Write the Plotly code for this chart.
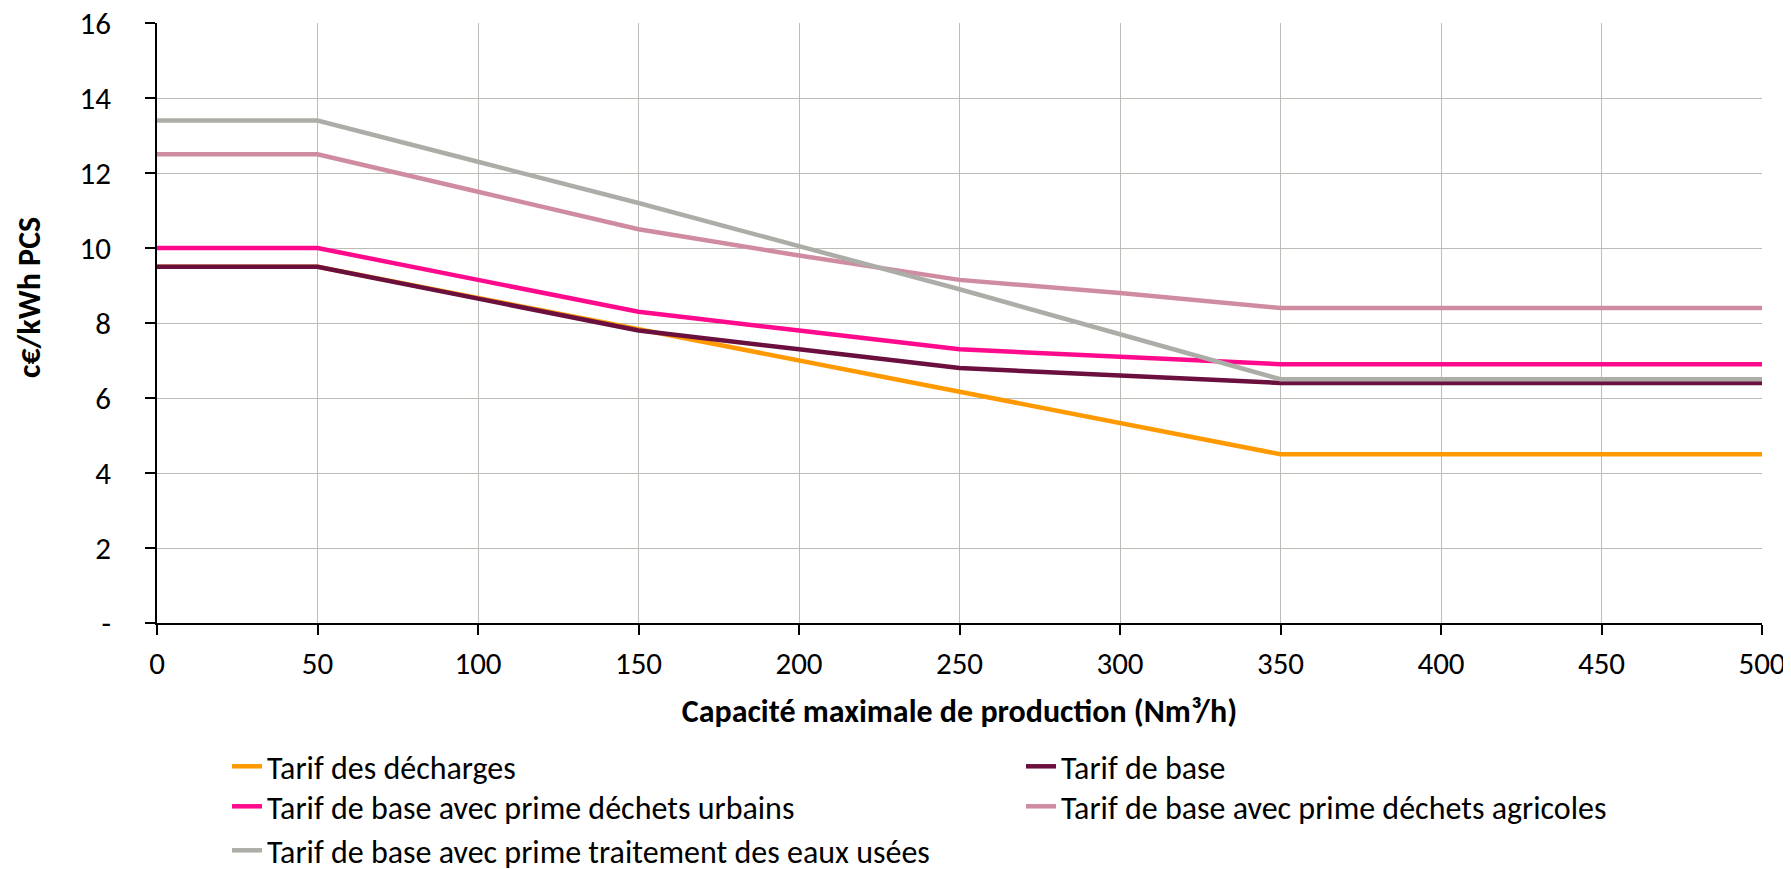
import plotly.graph_objects as go

# ---- data ----
capacity = [0, 50, 100, 150, 200, 250, 300, 350, 400, 450, 500]
tarif_decharges = [9.5, 9.5, 8.67, 7.83, 7.0, 6.17, 5.33, 4.5, 4.5, 4.5, 4.5]
tarif_base = [9.5, 9.5, 8.65, 7.8, 7.3, 6.8, 6.6, 6.4, 6.4, 6.4, 6.4]
tarif_urbains = [10.0, 10.0, 9.15, 8.3, 7.8, 7.3, 7.1, 6.9, 6.9, 6.9, 6.9]
tarif_agricoles = [12.5, 12.5, 11.5, 10.5, 9.8, 9.15, 8.8, 8.4, 8.4, 8.4, 8.4]
tarif_eaux = [13.4, 13.4, 12.3, 11.2, 10.05, 8.9, 7.7, 6.5, 6.5, 6.5, 6.5]

series_names = [
    "Tarif des décharges",
    "Tarif de base",
    "Tarif de base avec prime déchets urbains",
    "Tarif de base avec prime déchets agricoles",
    "Tarif de base avec prime traitement des eaux usées",
]
series_values = [tarif_decharges, tarif_base, tarif_urbains, tarif_agricoles, tarif_eaux]
series_colors = ["#FF9900", "#6A0F3E", "#FF0A8C", "#CF8CA0", "#ADADA8"]
# legend row of each series (two entries per row, as in the reference)
series_legend = ["legend", "legend", "legend2", "legend2", "legend3"]

x_ticks = [0, 50, 100, 150, 200, 250, 300, 350, 400, 450, 500]
y_ticks = [0, 2, 4, 6, 8, 10, 12, 14, 16]
y_ticktext = ["-", "2", "4", "6", "8", "10", "12", "14", "16"]

x_title = "Capacité maximale de production (Nm³/h)"
y_title = "c€/kWh PCS"

FONT = "Calibri, Carlito, Lato, sans-serif"
# the page body has an 8px margin, so the figure is 8px smaller and shifted
W, H = 1783, 861
L, R, T, B = 149, 29, 15, 246
PW, PH = W - L - R, H - T - B

fig = go.Figure()
for name, vals, col, lg in zip(series_names, series_values, series_colors, series_legend):
    fig.add_trace(go.Scatter(
        x=capacity, y=vals, name=name, mode="lines",
        line=dict(color=col, width=4.5), legend=lg,
    ))


def legend_row(top_fig_px):
    return dict(
        orientation="h", x=(219 - L) / PW, xanchor="left",
        y=(PH + T - top_fig_px) / PH, yanchor="top",
        entrywidth=749, entrywidthmode="pixels",
        font=dict(family=FONT, size=32, color="black"),
        traceorder="normal", itemwidth=30, bgcolor="rgba(0,0,0,0)",
    )


fig.update_layout(
    width=W, height=H,
    margin=dict(l=L, r=R, t=T, b=B, autoexpand=False),
    paper_bgcolor="white", plot_bgcolor="white",
    font=dict(family=FONT, size=31, color="black"),
    showlegend=True,
    legend=legend_row(731),
    legend2=legend_row(771),
    legend3=legend_row(815),
    xaxis=dict(
        range=[0, 500], tickvals=x_ticks,
        showgrid=True, gridcolor="#BDBDB8", gridwidth=1.3,
        showline=True, linecolor="black", linewidth=1.5,
        ticks="outside", ticklen=10, tickcolor="black", tickwidth=1.5,
        ticklabelstandoff=2, ticklabeloverflow="allow",
        tickfont=dict(family=FONT, size=31),
        title=dict(text="<b>" + x_title + "</b>", font=dict(family=FONT, size=32), standoff=19),
        zeroline=False,
    ),
    yaxis=dict(
        range=[0, 16], tickvals=y_ticks, ticktext=y_ticktext,
        showgrid=True, gridcolor="#BDBDB8", gridwidth=1.3,
        showline=True, linecolor="black", linewidth=1.5,
        ticks="outside", ticklen=10, tickcolor="black", tickwidth=1.5,
        ticklabelstandoff=28, ticklabeloverflow="allow",
        tickfont=dict(family=FONT, size=31),
        zeroline=False,
    ),
    annotations=[dict(
        text="<b>" + y_title + "</b>", textangle=-90,
        xref="paper", yref="paper",
        x=(22 - L) / PW, y=1 - (290 - T) / PH,
        xanchor="center", yanchor="middle", showarrow=False,
        font=dict(family=FONT, size=32, color="black"),
    )],
)

fig.write_html("out.html")
